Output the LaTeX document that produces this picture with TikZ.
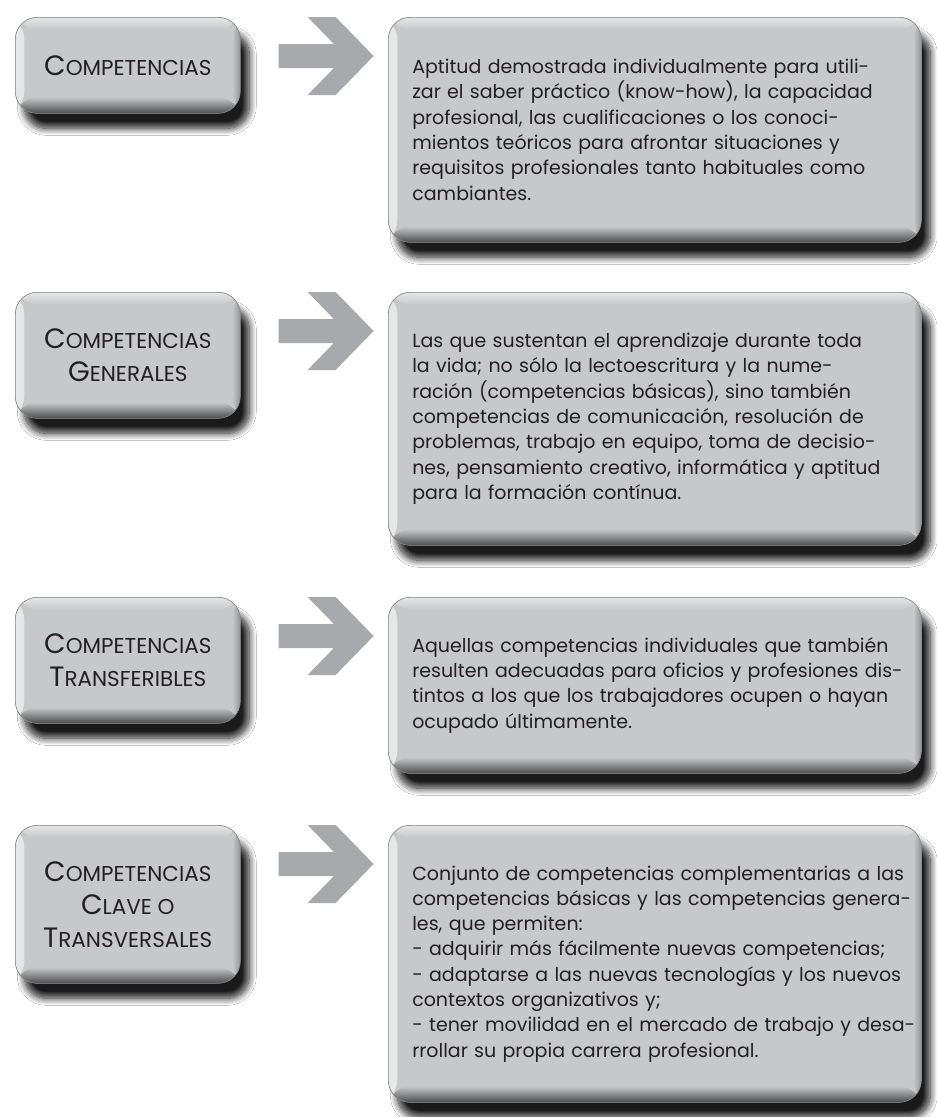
\documentclass[tikz,border=0pt]{standalone}
\usepackage{fontspec}
\setmainfont{Poppins}
\usetikzlibrary{shadows.blur}

\definecolor{boxgrey}{HTML}{C7C8CA}
\definecolor{boxlight}{HTML}{E6E7E8}
\definecolor{boxrim}{HTML}{4D4D4F}
\definecolor{arrowgrey}{HTML}{A7A9AC}
\definecolor{inkgrey}{HTML}{231F20}

% small capitals made by hand: first letter large, the rest smaller
\newcommand{\fakesc}[2]{{\fontsize{28}{33}\selectfont #1}#2}
% one printed line, never broken
\newcommand{\tline}[1]{\mbox{#1}}

\begin{document}
\begin{tikzpicture}[x=1pt, y=-1pt,
      every node/.style = {text=inkgrey},
      box/.style = {rounded corners=22pt, fill=boxgrey, draw=boxrim!70, line width=0.6pt,
        blur shadow={shadow xshift=9pt, shadow yshift=-15pt, shadow blur radius=7pt,
          shadow blur steps=12, shadow opacity=90},
        path picture={
          \shade[left color=boxlight, right color=boxgrey] (path picture bounding box.north west) rectangle ([xshift=9pt]path picture bounding box.south west);
          \shade[left color=boxgrey, right color=boxrim!60] ([xshift=-8pt]path picture bounding box.north east) rectangle (path picture bounding box.south east);
          \shade[top color=boxlight, bottom color=boxgrey] (path picture bounding box.north west) rectangle ([yshift=-12pt]path picture bounding box.north east);
          \shade[top color=boxgrey, bottom color=boxrim] ([yshift=16pt]path picture bounding box.south west) rectangle (path picture bounding box.south east);
        }},
      namebox/.style = {box, minimum width=225pt, align=center, anchor=north west,
        font=\fontsize{21.5}{33}\selectfont},
      textbox/.style = {box, minimum width=533pt, text width=485pt, inner xsep=24pt,
        align=left, anchor=north west, font=\fontsize{19}{25.3}\selectfont},
      chev/.pic = {
        \fill[arrowgrey] (0,27) -- (55.3,27) -- (29,0) -- (57,0) -- (95,39) -- (57,78)
          -- (29,78) -- (55.3,51) -- (0,51) -- cycle;
      }]
    \path[use as bounding box, fill=white] (0,0) rectangle (937,1117);

    % Competencias
    \node[namebox, minimum height=96pt] (comp) at (15,17) {\fakesc{C}{OMPETENCIAS}};
    \node[textbox, minimum height=225pt] (compdef) at (388,17)
      {\tline{Aptitud demostrada individualmente para utili-}\\
       \tline{zar el saber práctico (know-how), la capacidad}\\
       \tline{profesional, las cualificaciones o los conoci-}\\
       \tline{mientos teóricos para afrontar situaciones y}\\
       \tline{requisitos profesionales tanto habituales como}\\
       \tline{cambiantes.}};
    \pic at ([xshift=38pt]comp.north east) {chev};

    % Competencias generales
    \node[namebox, minimum height=126pt] (gen) at (15,292)
      {\fakesc{C}{OMPETENCIAS}\\\fakesc{G}{ENERALES}};
    \node[textbox, minimum height=253pt] (gendef) at (388,292)
      {\tline{Las que sustentan el aprendizaje durante toda}\\
       \tline{la vida; no sólo la lectoescritura y la nume-}\\
       \tline{ración (competencias básicas), sino también}\\
       \tline{competencias de comunicación, resolución de}\\
       \tline{problemas, trabajo en equipo, toma de decisio-}\\
       \tline{nes, pensamiento creativo, informática y aptitud}\\
       \tline{para la formación contínua.}};
    \pic at ([xshift=38pt]gen.north east) {chev};

    % Competencias transferibles
    \node[namebox, minimum height=126pt] (trans) at (15,597)
      {\fakesc{C}{OMPETENCIAS}\\\fakesc{T}{RANSFERIBLES}};
    \node[textbox, minimum height=176pt] (transdef) at (388,597)
      {\tline{Aquellas competencias individuales que también}\\
       \tline{resulten adecuadas para oficios y profesiones dis-}\\
       \tline{tintos a los que los trabajadores ocupen o hayan}\\
       \tline{ocupado últimamente.}};
    \pic at ([xshift=38pt]trans.north east) {chev};

    % Competencias clave o transversales
    \node[namebox, minimum height=158pt] (clave) at (15,825)
      {\fakesc{C}{OMPETENCIAS}\\\fakesc{C}{LAVE O}\\\fakesc{T}{RANSVERSALES}};
    \node[textbox, minimum height=277pt] (clavedef) at (388,825)
      {\tline{Conjunto de competencias complementarias a las}\\
       \tline{competencias básicas y las competencias genera-}\\
       \tline{les, que permiten:}\\
       \tline{- adquirir más fácilmente nuevas competencias;}\\
       \tline{- adaptarse a las nuevas tecnologías y los nuevos}\\
       \tline{contextos organizativos y;}\\
       \tline{- tener movilidad en el mercado de trabajo y desa-}\\
       \tline{rrollar su propia carrera profesional.}};
    \pic at ([xshift=38pt]clave.north east) {chev};
\end{tikzpicture}
\end{document}
